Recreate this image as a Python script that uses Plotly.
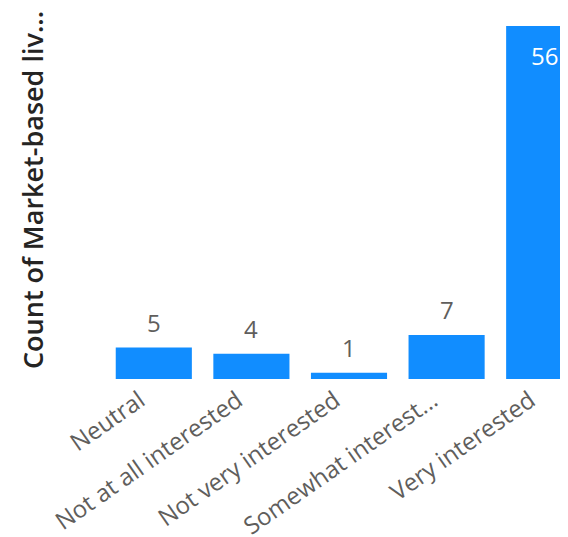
import plotly.graph_objects as go

categories = ["Neutral", "Not at all interested", "Not very interested", "Somewhat interest...", "Very interested"]
counts = [5, 4, 1, 7, 56]
y_title = "Count of Market-based liv..."

fig = go.Figure(go.Bar(
    x=categories,
    y=counts,
    marker=dict(color="#118DFF", line=dict(width=0)),
    hoverinfo="x+y",
))

annotations = []
for c, v in zip(categories, counts):
    inside = v >= 20
    annotations.append(dict(
        x=c, y=v, xref="x", yref="y",
        text=str(v), showarrow=False,
        xanchor="center", yanchor="middle",
        yshift=-29 if inside else 25,
        font=dict(family="Open Sans", size=24, color="#FFFFFF" if inside else "#605E5C"),
    ))

# l/t offsets compensate the 8px page margin of the html body
L, T, PW, PH = 97, 18, 471, 353
annotations.append(dict(
    text=y_title, xref="paper", yref="paper",
    x=(24 - L) / PW, y=(PH + T - 182) / PH, xanchor="center", yanchor="middle",
    textangle=-90, showarrow=False,
    font=dict(family="Open Sans", size=27, color="#252423", weight=600),
))

fig.update_layout(
    width=568, height=537,
    margin=dict(l=L, r=568 - L - PW, t=T, b=537 - T - PH, autoexpand=False),
    paper_bgcolor="white", plot_bgcolor="white",
    bargap=0.22,
    showlegend=False,
    xaxis=dict(
        range=[-0.5, -0.5 + PW / 97.6],
        tickangle=-35,
        ticklabelshift=-14,
        ticklabelstandoff=2,
        tickfont=dict(family="Open Sans", size=24, color="#605E5C"),
        showgrid=False, showline=False, zeroline=False, ticks="",
    ),
    yaxis=dict(
        range=[0, 56],
        showticklabels=False, showgrid=False, zeroline=False, showline=False, ticks="",
    ),
    annotations=annotations,
)

fig.write_html("out.html")
